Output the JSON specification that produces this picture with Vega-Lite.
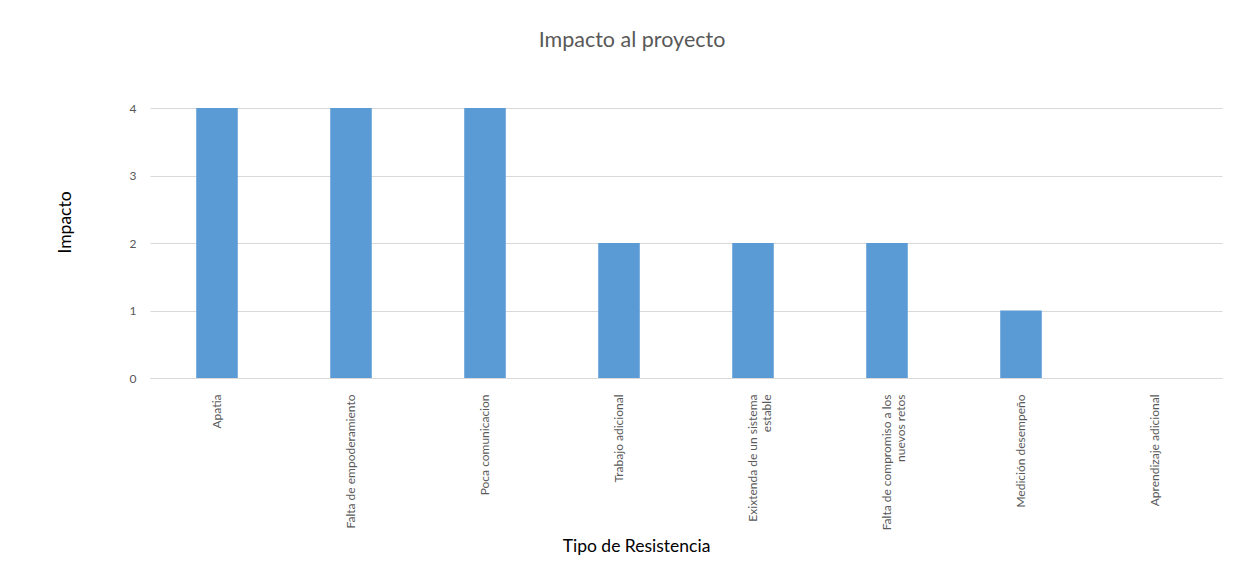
{
  "$schema": "https://vega.github.io/schema/vega-lite/v6.json",
  "autosize": {"type": "none"},
  "padding": {"left": 150, "top": 108, "right": 35, "bottom": 200},
  "width": 1072,
  "height": 270,
  "background": "white",
  "title": {
    "text": "Impacto al proyecto",
    "font": "Lato",
    "fontSize": 21.5,
    "fontWeight": "normal",
    "color": "#595959",
    "anchor": "middle",
    "dx": -54,
    "offset": 51
  },
  "data": {
    "values": [
      {"tipo": "Apatia", "impacto": 4},
      {"tipo": "Falta de empoderamiento", "impacto": 4},
      {"tipo": "Poca comunicacion", "impacto": 4},
      {"tipo": "Trabajo adicional", "impacto": 2},
      {"tipo": "Exixtenda de un sistema estable", "impacto": 2},
      {"tipo": "Falta de compromiso a los nuevos retos", "impacto": 2},
      {"tipo": "Medición desempeño", "impacto": 1},
      {"tipo": "Aprendizaje adicional", "impacto": 0}
    ]
  },
  "mark": {"type": "bar", "color": "#5B9BD5"},
  "encoding": {
    "x": {
      "field": "tipo",
      "type": "nominal",
      "sort": null,
      "scale": {"paddingInner": 0.69, "paddingOuter": 0.345},
      "axis": {
        "title": "Tipo de Resistencia",
        "titleFont": "Lato",
        "titleFontSize": 17.5,
        "titleFontWeight": "normal",
        "titleColor": "#000000",
        "titleX": 486,
        "titleY": 159,
        "labelAngle": -90,
        "labelAlign": "right",
        "labelBaseline": "middle",
        "labelFont": "Lato",
        "labelFontSize": 12,
        "labelColor": "#595959",
        "labelPadding": 16,
        "labelLineHeight": 14,
        "labelExpr": "datum.label == 'Exixtenda de un sistema estable' ? ['Exixtenda de un sistema', 'estable'] : datum.label == 'Falta de compromiso a los nuevos retos' ? ['Falta de compromiso a los', 'nuevos retos'] : datum.label",
        "ticks": false,
        "domain": true,
        "domainColor": "#d9d9d9",
        "grid": false
      }
    },
    "y": {
      "field": "impacto",
      "type": "quantitative",
      "scale": {"domain": [0, 4]},
      "axis": {
        "title": "Impacto",
        "titleFont": "Lato",
        "titleFontSize": 17.5,
        "titleFontWeight": "normal",
        "titleColor": "#000000",
        "titlePadding": 55,
        "titleY": 114,
        "values": [0, 1, 2, 3, 4],
        "labelFont": "Lato",
        "labelFontSize": 12,
        "labelColor": "#595959",
        "labelPadding": 14,
        "ticks": false,
        "domain": false,
        "grid": true,
        "gridColor": "#d9d9d9",
        "gridWidth": 1
      }
    }
  },
  "config": {"view": {"stroke": null}}
}
